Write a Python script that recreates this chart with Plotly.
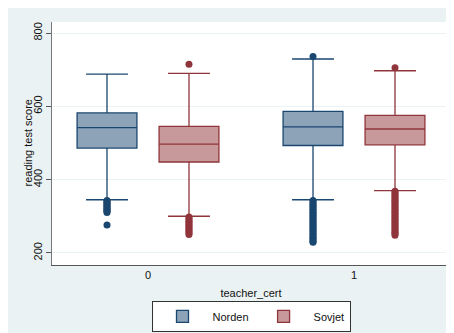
import plotly.graph_objects as go

# ---- data ----
categories = [0, 1]
tick_labels = ["0", "1"]
series_names = ["Norden", "Sovjet"]

norden_lowerfence = [345, 345]
norden_q1 = [486, 493]
norden_median = [542, 544]
norden_q3 = [582, 586]
norden_upperfence = [688, 729]

sovjet_lowerfence = [300, 370]
sovjet_q1 = [448, 495]
sovjet_median = [497, 538]
sovjet_q3 = [545, 575]
sovjet_upperfence = [690, 697]

# outliers per category
norden_out_0 = [343, 340, 337, 334, 331, 328, 325, 322, 319, 316, 313, 310, 276]
norden_out_1 = [736, 343, 339, 335, 331, 327, 323, 319, 315, 311, 307, 303, 299,
                295, 291, 287, 283, 279, 275, 271, 267, 263, 259, 255, 251, 247,
                243, 239, 235, 231, 229]
sovjet_out_0 = [715, 298, 294, 290, 286, 282, 278, 274, 270, 266, 262, 258, 254, 250]
sovjet_out_1 = [705, 368, 364, 360, 356, 352, 348, 344, 340, 336, 332, 328, 324,
                320, 316, 312, 308, 304, 300, 296, 292, 288, 284, 280, 276, 272,
                268, 264, 260, 256, 252, 248]

y_ticks = [200, 400, 600, 800]
y_title = "reading test score"
x_title = "teacher_cert"

# ---- styles ----
navy = "#1a476f"
navy_fill = "#8da3b8"
maroon = "#90353b"
maroon_fill = "#c8999b"
bg = "#eaf2f3"
font = "Liberation Sans, Arial, Helvetica, sans-serif"

boxgap = 0.204
boxgroupgap = 0.27
offset = 0.25 * (1 - boxgap)

fig = go.Figure()

fig.add_trace(go.Box(
    name=series_names[0], x=categories, q1=norden_q1, median=norden_median,
    q3=norden_q3, lowerfence=norden_lowerfence, upperfence=norden_upperfence,
    boxpoints=False, fillcolor=navy_fill, line=dict(color=navy, width=1.3),
    whiskerwidth=0.7, offsetgroup="a", legendgroup="a"))
fig.add_trace(go.Box(
    name=series_names[1], x=categories, q1=sovjet_q1, median=sovjet_median,
    q3=sovjet_q3, lowerfence=sovjet_lowerfence, upperfence=sovjet_upperfence,
    boxpoints=False, fillcolor=maroon_fill, line=dict(color=maroon, width=1.3),
    whiskerwidth=0.7, offsetgroup="b", legendgroup="b"))

for cat, vals in zip(categories, [norden_out_0, norden_out_1]):
    fig.add_trace(go.Scatter(x=[cat - offset] * len(vals), y=vals, mode="markers",
                             marker=dict(color=navy, size=7), showlegend=False,
                             legendgroup="a", hoverinfo="y"))
for cat, vals in zip(categories, [sovjet_out_0, sovjet_out_1]):
    fig.add_trace(go.Scatter(x=[cat + offset] * len(vals), y=vals, mode="markers",
                             marker=dict(color=maroon, size=7), showlegend=False,
                             legendgroup="b", hoverinfo="y"))

fig.update_layout(
    width=446, height=325,
    margin=dict(l=44, r=4, t=14, b=68, autoexpand=False),
    paper_bgcolor=bg, plot_bgcolor="white",
    boxmode="group", boxgap=boxgap, boxgroupgap=boxgroupgap,
    font=dict(family=font, size=11, color="#111111"),
    showlegend=True,
    legend=dict(orientation="h", x=0.5, xanchor="center", y=-0.148, yanchor="top",
                bgcolor="white", bordercolor="#333333", borderwidth=1,
                font=dict(size=11), itemwidth=50, traceorder="normal"),
    xaxis=dict(range=[-0.466, 1.466], tickvals=categories, ticktext=tick_labels,
               showgrid=False, zeroline=False, showline=True, linecolor="#555555",
               linewidth=1, ticks="", automargin=False,
               title=dict(text=x_title, font=dict(size=11), standoff=9)),
    yaxis=dict(range=[167, 830], tickvals=y_ticks, tickangle=-90, automargin=False,
               showgrid=True, gridcolor=bg, gridwidth=1, zeroline=False,
               showline=True, linecolor="#777777", linewidth=1,
               ticks="outside", ticklen=5, tickcolor="#555555"),
    annotations=[dict(text=y_title, xref="paper", yref="paper", x=0, y=0.5,
                      xanchor="center", yanchor="middle", xshift=-25, textangle=-90,
                      showarrow=False, font=dict(size=11))],
)

fig.write_html("out.html")
